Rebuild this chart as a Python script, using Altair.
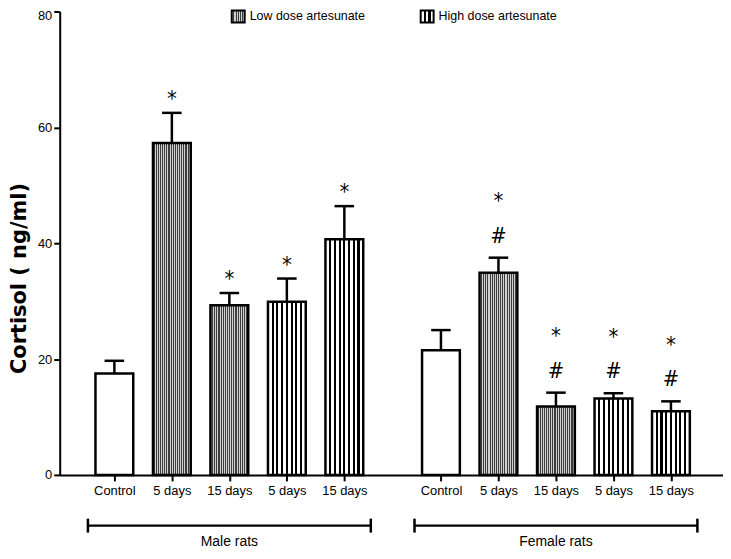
import json
import altair as alt
import pandas as pd

# ---------------- data ----------------
sexes = ["Male rats", "Female rats"]
conditions = ["Control", "5 days", "15 days", "5 days", "15 days"]
treatments = ["Control", "Low dose artesunate", "Low dose artesunate",
              "High dose artesunate", "High dose artesunate"]
male_mean = [17.5, 57.3, 29.3, 29.9, 40.7]
male_sem = [2.2, 5.2, 2.1, 4.0, 5.7]
female_mean = [21.5, 34.9, 11.8, 13.2, 11.0]
female_sem = [3.5, 2.6, 2.4, 0.9, 1.7]
male_star = ["", "*", "*", "*", "*"]
male_hash = ["", "", "", "", ""]
female_star = ["", "*", "*", "*", "*"]
female_hash = ["", "#", "#", "#", "#"]
y_ticks = [0, 20, 40, 60, 80]
legend_items = ["Low dose artesunate", "High dose artesunate"]

# ---------------- layout ----------------
GROUP_SHIFT = 5.68
X_DOMAIN = [-0.864, 10.499]
W, H = 667, 466
FONT = "'Arial Narrow', 'Liberation Sans Narrow', 'Liberation Sans', Arial, sans-serif"
MARK_FONT = "'DejaVu Sans Condensed', 'DejaVu Sans', sans-serif"

rows = []
for g, (sex, means, sems, stars, hashes) in enumerate([
        (sexes[0], male_mean, male_sem, male_star, male_hash),
        (sexes[1], female_mean, female_sem, female_star, female_hash)]):
    for i in range(len(conditions)):
        rows.append(dict(sex=sex, cond=conditions[i], treat=treatments[i],
                         mean=means[i], sem=sems[i], star=stars[i], hash=hashes[i],
                         pos=i + g * GROUP_SHIFT))
df = pd.DataFrame(rows)
df["top"] = df["mean"] + df["sem"]
df["capL"] = df["pos"] - 0.17
df["capR"] = df["pos"] + 0.17

brackets = df.groupby("sex", sort=False)["pos"].agg(["min", "max"]).reset_index()
brackets["start"] = brackets["min"] - 0.46
brackets["end"] = brackets["max"] + 0.46
brackets["mid"] = (brackets["start"] + brackets["end"]) / 2


def stripes(n, frac, dark, light):
    stops = [alt.GradientStop(color=light, offset=0)]
    for k in range(1, n + 1):
        c = k / (n + 1)
        a, b = c - frac / 2, c + frac / 2
        stops += [alt.GradientStop(color=light, offset=a), alt.GradientStop(color=dark, offset=a),
                  alt.GradientStop(color=dark, offset=b), alt.GradientStop(color=light, offset=b)]
    stops.append(alt.GradientStop(color=light, offset=1))
    return alt.LinearGradient(gradient="linear", stops=stops, x1=0, x2=1, y1=0, y2=0)


low_fill = stripes(19, 0.026, "#3c3c3c", "#d0d0d0")
high_fill = stripes(7, 0.055, "#000000", "#ffffff")
low_icon = stripes(5, 0.08, "#3c3c3c", "#d0d0d0")
high_icon = stripes(2, 0.2, "#000000", "#ffffff")

xs = alt.Scale(domain=X_DOMAIN, nice=False, zero=False)
ys = alt.Scale(domain=[0, 80], nice=False)

label_expr = (f"{json.dumps(conditions)}[datum.value < {GROUP_SHIFT - 0.5} ? "
              f"round(datum.value) : round(datum.value - {GROUP_SHIFT})]")

x_axis = alt.Axis(values=df["pos"].tolist(), labelExpr=label_expr, title=None,
                  grid=False, tickSize=6, tickWidth=2, tickColor="black",
                  domainColor="black", domainWidth=2, labelFont=FONT, labelFontSize=13,
                  labelColor="black", labelPadding=4, labelFlush=False, labelOverlap=False)
y_axis = alt.Axis(values=y_ticks, title="Cortisol ( ng/ml)", grid=False, tickSize=6,
                  tickWidth=2, tickColor="black", domainColor="black", domainWidth=2,
                  labelFont=FONT, labelFontSize=13, labelColor="black", labelPadding=2,
                  labelOffset={"expr": f"datum.value == {max(y_ticks)} ? 4 : 0"},
                  titleFont="DejaVu Sans", titleFontWeight="bold", titleFontSize=21,
                  titleColor="black", titleAngle=-90, titleX=-40, titleY=268,
                  titleAlign="center", titleBaseline="middle")


def X(field):
    return alt.X(field, scale=xs, axis=x_axis)


def Y(field):
    return alt.Y(field, scale=ys, axis=y_axis)


base = alt.Chart(df)


def bars(treat, fill):
    return base.transform_filter(alt.datum.treat == treat).mark_bar(
        size=38, fill=fill, stroke="black", strokeWidth=2.5).encode(
        x=X("pos:Q"), y=Y("mean:Q"))


err = base.mark_rule(color="black", strokeWidth=2.5).encode(
    x=X("pos:Q"), y=Y("mean:Q"), y2="top:Q")
cap = base.mark_rule(color="black", strokeWidth=2.5).encode(
    x=X("capL:Q"), x2="capR:Q", y=Y("top:Q"))

male_star_t = base.transform_filter((alt.datum.sex == sexes[0]) & (alt.datum.star != "")).mark_text(
    font=MARK_FONT, fontSize=22, baseline="alphabetic", dy=-7, color="black").encode(
    x=X("pos:Q"), y=Y("top:Q"), text="star:N")
fem_star_t = base.transform_filter((alt.datum.sex == sexes[1]) & (alt.datum.star != "")).mark_text(
    font=MARK_FONT, fontSize=22, baseline="alphabetic", dy=-50, color="black").encode(
    x=X("pos:Q"), y=Y("top:Q"), text="star:N")
hash_t = base.transform_filter(alt.datum.hash != "").mark_text(
    font=MARK_FONT, fontSize=22, baseline="alphabetic", dy=-15, color="black").encode(
    x=X("pos:Q"), y=Y("top:Q"), text="hash:N")

bb = alt.Chart(brackets)
br_line = bb.mark_rule(color="black", strokeWidth=2.5).encode(
    x=X("start:Q"), x2="end:Q", y=alt.value(517))
br_l = bb.mark_rule(color="black", strokeWidth=2.5).encode(
    x=X("start:Q"), y=alt.value(510), y2=alt.value(524))
br_r = bb.mark_rule(color="black", strokeWidth=2.5).encode(
    x=X("end:Q"), y=alt.value(510), y2=alt.value(524))
br_t = bb.mark_text(font=FONT, fontSize=14, baseline="middle", color="black").encode(
    x=X("mid:Q"), y=alt.value(533), text="sex:N")

leg = alt.Chart(pd.DataFrame({"label": legend_items}))
leg_low_icon = leg.transform_filter(alt.datum.label == legend_items[0]).mark_rect(
    fill=low_icon, stroke="black", strokeWidth=2).encode(
    x=alt.value(173), x2=alt.value(186), y=alt.value(-1), y2=alt.value(11))
leg_high_icon = leg.transform_filter(alt.datum.label == legend_items[1]).mark_rect(
    fill=high_icon, stroke="black", strokeWidth=2).encode(
    x=alt.value(363), x2=alt.value(376), y=alt.value(-1), y2=alt.value(11))
leg_low_t = leg.transform_filter(alt.datum.label == legend_items[0]).mark_text(
    font=FONT, fontSize=12.5, align="left", baseline="middle", color="black").encode(
    x=alt.value(191), y=alt.value(5), text="label:N")
leg_high_t = leg.transform_filter(alt.datum.label == legend_items[1]).mark_text(
    font=FONT, fontSize=12.5, align="left", baseline="middle", color="black").encode(
    x=alt.value(381), y=alt.value(5), text="label:N")

chart = alt.layer(
    err, bars("Control", "white"), bars(treatments[1], low_fill),
    bars(treatments[3], high_fill), cap, male_star_t, fem_star_t, hash_t,
    br_line, br_l, br_r, br_t, leg_low_icon, leg_high_icon, leg_low_t, leg_high_t
).properties(
    width=W, height=H,
    autosize=alt.AutoSizeParams(type="none"),
    padding={"left": 52, "top": 2, "right": 0, "bottom": 75},
    background="white",
).configure_view(stroke=None)

chart.save("out.html", embed_options={"renderer": "svg", "actions": False})
